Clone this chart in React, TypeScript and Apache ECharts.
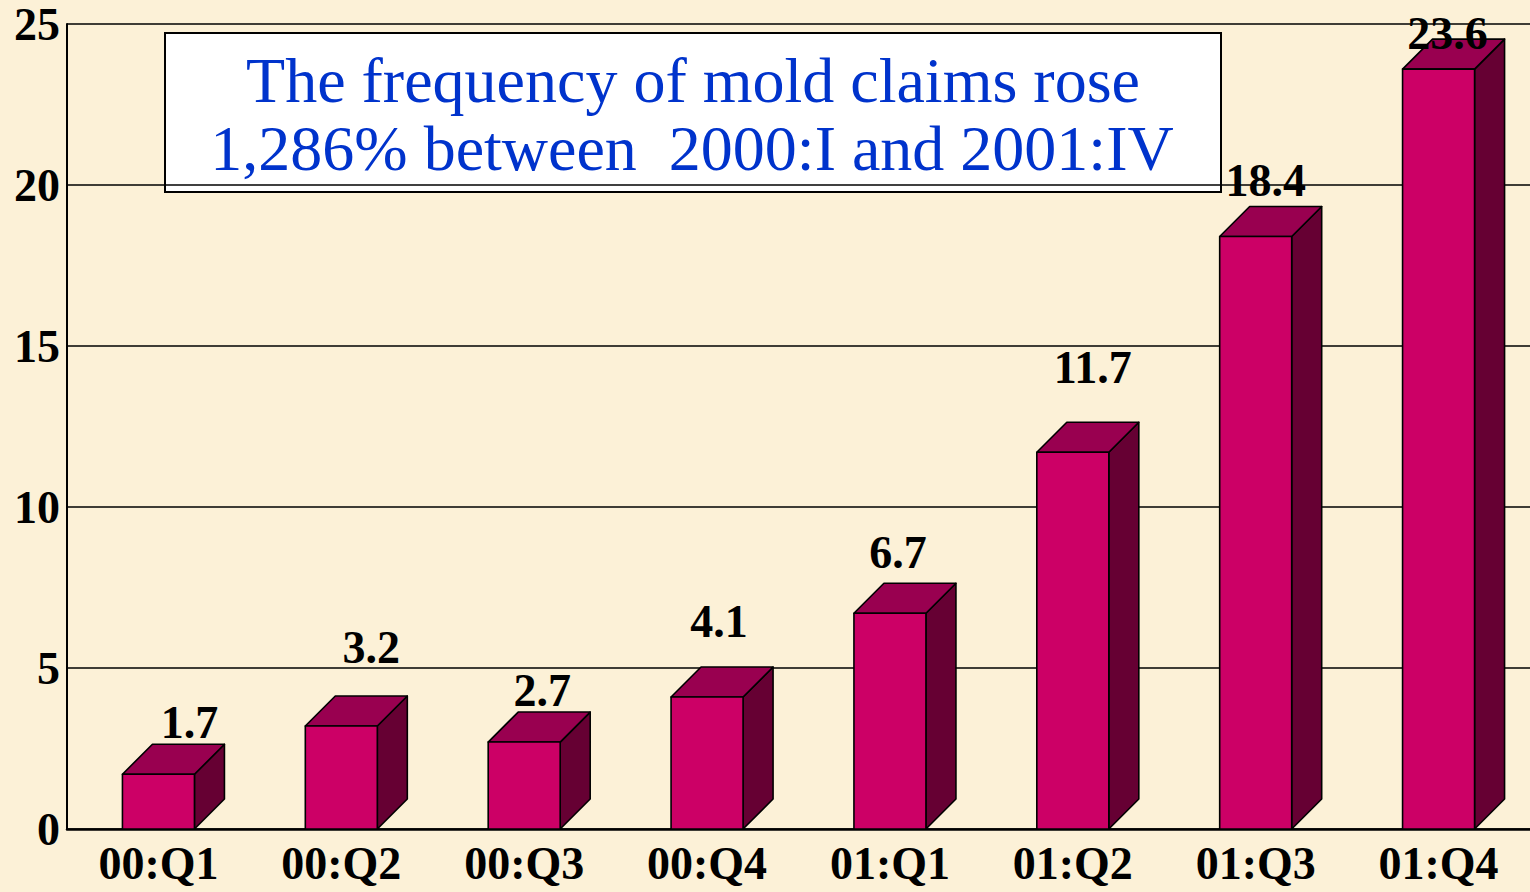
import React, { useEffect, useRef } from "react";
import * as echarts from "echarts";

const categories = ["00:Q1", "00:Q2", "00:Q3", "00:Q4", "01:Q1", "01:Q2", "01:Q3", "01:Q4"];
const claimFrequency = [1.7, 3.2, 2.7, 4.1, 6.7, 11.7, 18.4, 23.6];
const yTicks = { min: 0, max: 25, interval: 5 };
const titleLines = ["The frequency of mold claims rose", "1,286% between  2000:I and 2001:IV"];

// layout / style constants (pixel offsets of value labels relative to each box top)
const labelShiftX = [31, 30, 18, 12, 8, 20, 10, 9];
const labelGapY = [22, 48, 22, 45, 31, 55, 26, 6];
const BAR_W = 72;
const DEPTH = 30;
const FONT = '"Liberation Serif", "Times New Roman", serif';

export default function App() {
  const ref = useRef<HTMLDivElement>(null);
  useEffect(() => {
    document.body.style.margin = "0";
    const chart = echarts.init(ref.current!, null, { renderer: "svg" });
    chart.setOption({
      animation: false,
      backgroundColor: "#FCF1D7",
      grid: { left: 67, top: 24, width: 1468, height: 805, containLabel: false },
      xAxis: {
        type: "category",
        data: categories,
        boundaryGap: true,
        axisLine: { show: true, lineStyle: { color: "#000", width: 2.5 } },
        axisTick: { show: false },
        axisLabel: {
          color: "#000",
          fontFamily: FONT,
          fontWeight: "bold",
          fontSize: 46,
          lineHeight: 38,
          margin: 15,
        },
        splitLine: { show: false },
      },
      yAxis: {
        type: "value",
        min: yTicks.min,
        max: yTicks.max,
        interval: yTicks.interval,
        axisLine: { show: true, lineStyle: { color: "#000", width: 2 } },
        axisTick: { show: false },
        axisLabel: { color: "#000", fontFamily: FONT, fontWeight: "bold", fontSize: 46, margin: 7 },
        splitLine: { show: true, lineStyle: { color: "#000", width: 1.6 } },
      },
      series: [
        {
          type: "custom",
          clip: false,
          data: claimFrequency.map((v, i) => [i, v]),
          renderItem: (params: any, api: any) => {
            const i = api.value(0);
            const v = api.value(1);
            const top = api.coord([i, v]);
            const base = api.coord([i, 0]);
            const x0 = top[0] - BAR_W / 2;
            const x1 = top[0] + BAR_W / 2;
            const yt = top[1];
            const yb = base[1];
            const stroke = { stroke: "#000", lineWidth: 1.6, lineJoin: "round" };
            return {
              type: "group",
              children: [
                {
                  type: "polygon",
                  shape: { points: [[x1, yb], [x1 + DEPTH, yb - DEPTH], [x1 + DEPTH, yt - DEPTH], [x1, yt]] },
                  style: { fill: "#660033", ...stroke },
                },
                {
                  type: "polygon",
                  shape: { points: [[x0, yt], [x0 + DEPTH, yt - DEPTH], [x1 + DEPTH, yt - DEPTH], [x1, yt]] },
                  style: { fill: "#990050", ...stroke },
                },
                {
                  type: "rect",
                  shape: { x: x0, y: yt, width: BAR_W, height: yb - yt },
                  style: { fill: "#CC0066", ...stroke },
                },
                {
                  type: "text",
                  x: top[0] + labelShiftX[i],
                  y: yt - DEPTH - labelGapY[i],
                  style: {
                    text: String(v),
                    font: `bold 46px ${FONT}`,
                    fill: "#000",
                    align: "center",
                    verticalAlign: "middle",
                  },
                },
              ],
            };
          },
        },
      ],
      graphic: [
        {
          type: "group",
          z: 100,
          children: [
            {
              type: "rect",
              shape: { x: 165, y: 33, width: 1056, height: 159 },
              style: { fill: "#FFFFFF", stroke: "#000", lineWidth: 2 },
            },
            {
              type: "text",
              x: 693,
              y: 80,
              style: { text: titleLines[0], font: `64px ${FONT}`, fill: "#0033CC", align: "center", verticalAlign: "middle" },
            },
            {
              type: "text",
              x: 692,
              y: 148,
              style: { text: titleLines[1], font: `64px ${FONT}`, fill: "#0033CC", align: "center", verticalAlign: "middle" },
            },
          ],
        },
      ],
    });
    return () => chart.dispose();
  }, []);
  return <div ref={ref} style={{ width: 1530, height: 892 }} />;
}
